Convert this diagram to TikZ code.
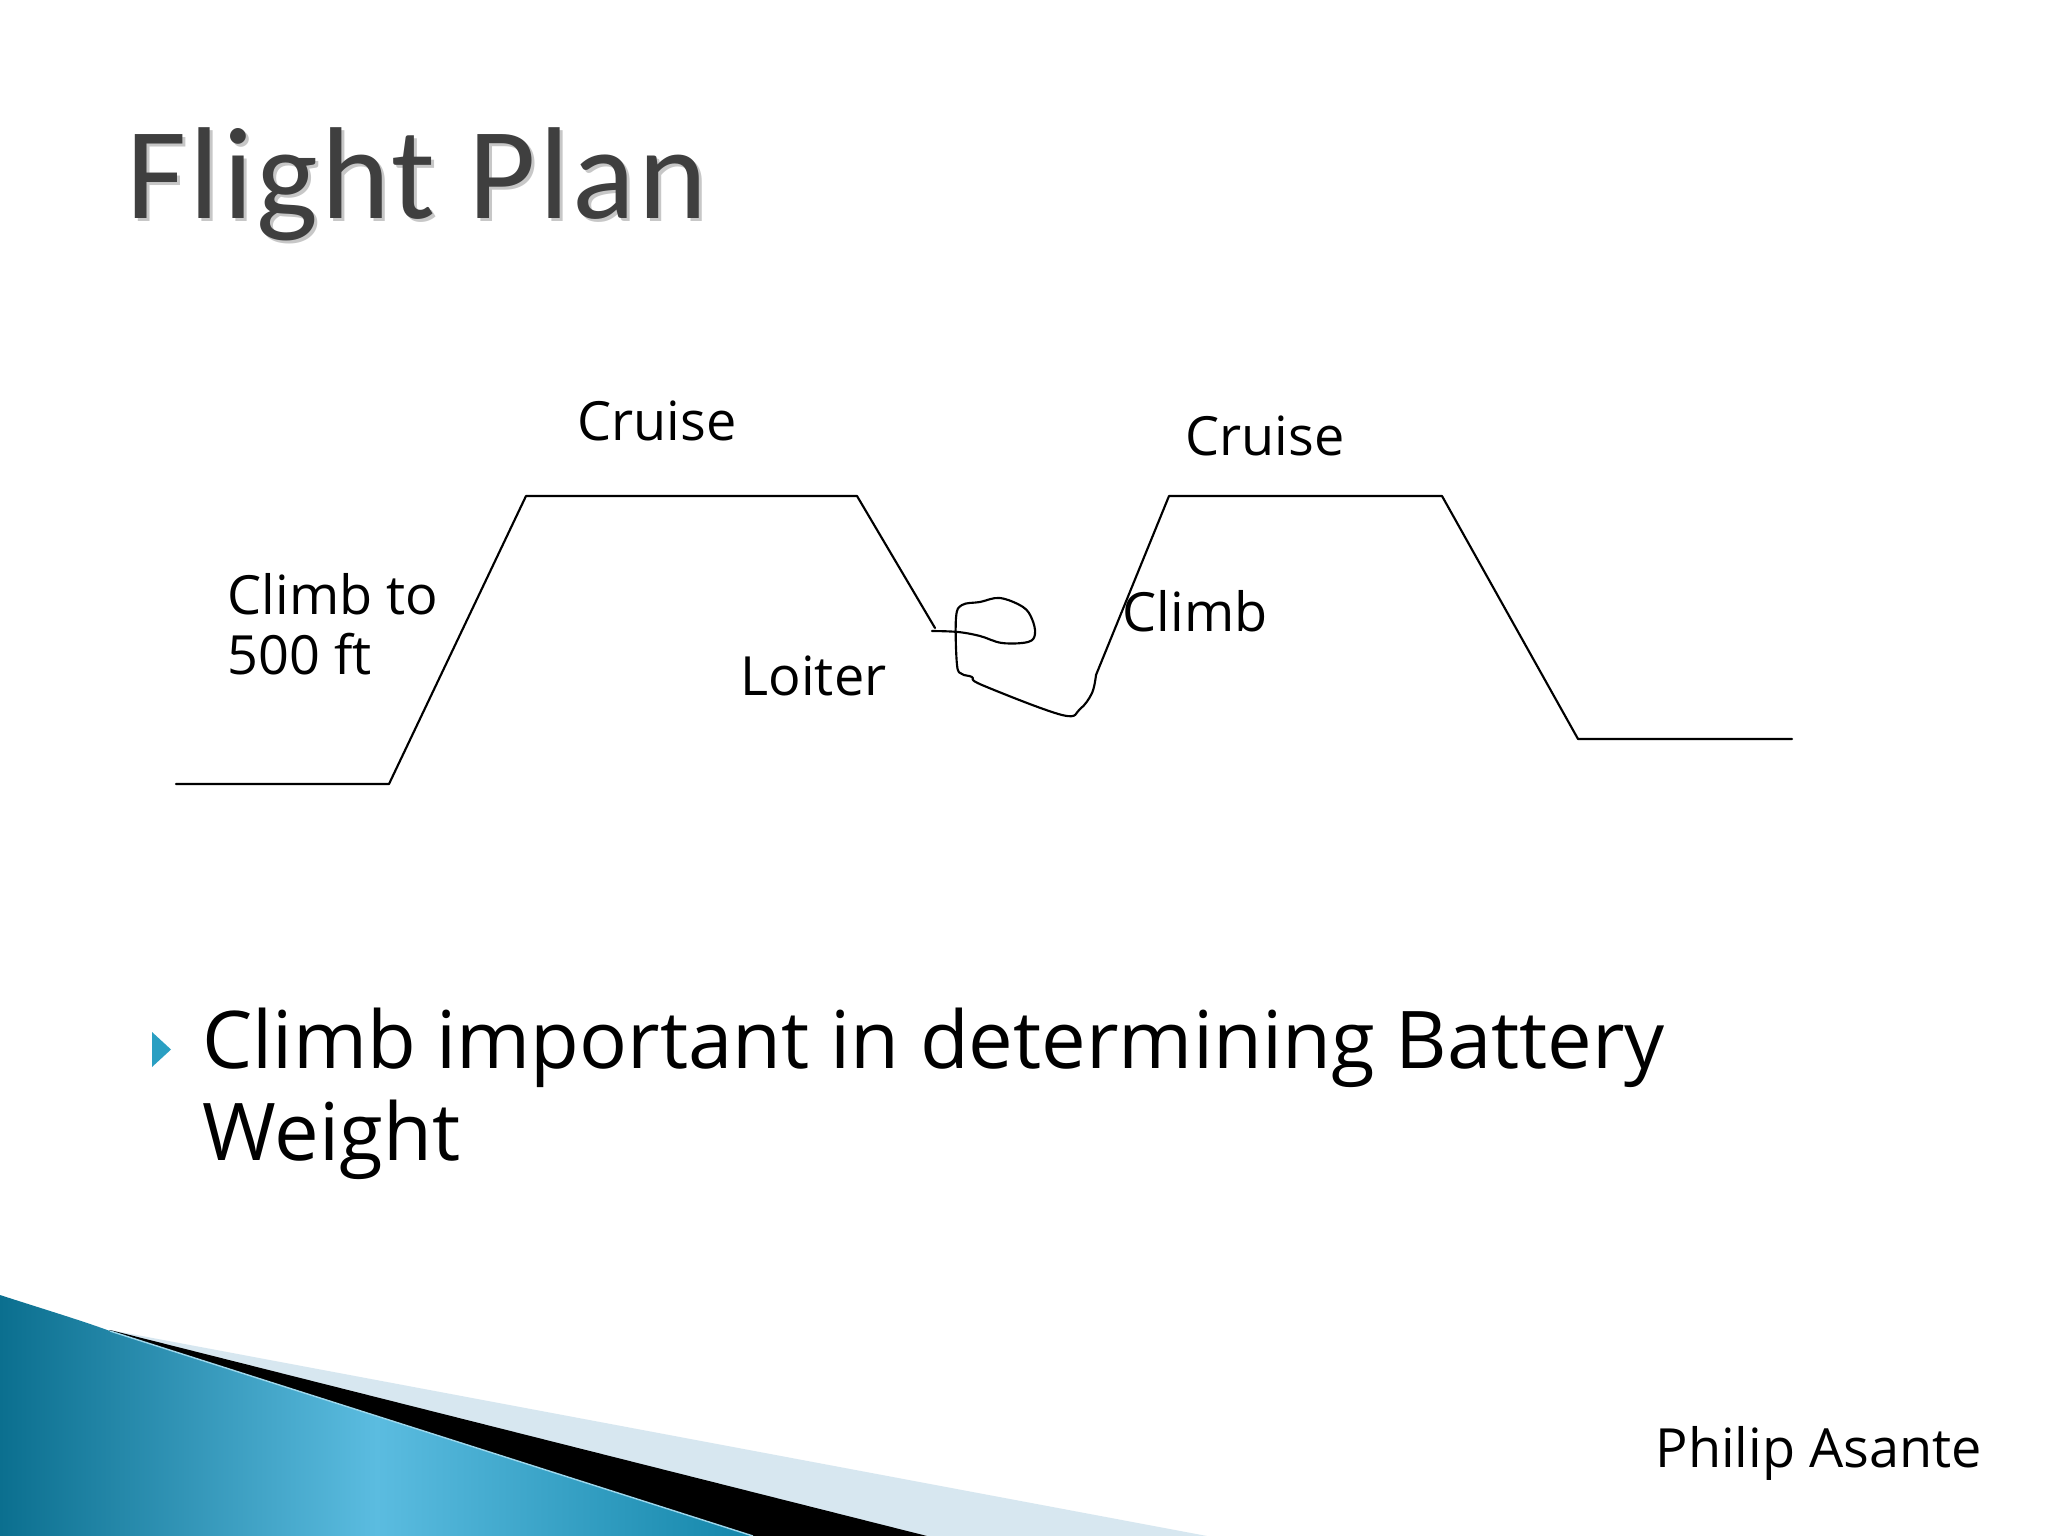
\documentclass[tikz,border=0pt]{standalone}
\usepackage{fontspec}
\setmainfont{Open Sans}
\newfontfamily\titlefont[LetterSpace = 2.5]{Carlito}
\definecolor{titlegray}{HTML}{3F3F3F}
\definecolor{bulletblue}{HTML}{2A9FC2}
\definecolor{swooshdark}{HTML}{0B6F8F}
\definecolor{swooshlight}{HTML}{5BBCE0}
\definecolor{swooshmid}{HTML}{1386AA}
\definecolor{swooshpale}{HTML}{D7E7F0}
\pgfdeclarehorizontalshading{swoosh}{100bp}{color(0bp)=(swooshdark); color(25bp)=(swooshdark); color(50bp)=(swooshlight); color(75bp)=(swooshmid); color(100bp)=(swooshmid)}

\begin{document}
\begin{tikzpicture}[x = 0.3515625pt, y = -0.3515625pt,
    every node/.style = {inner sep = 0pt},
    route/.style = {line width = 0.75pt, line join = round, line cap = round},
    lbl/.style = {anchor = base west, font = \fontsize{19}{21.2}\selectfont, align = left}]

        \useasboundingbox (0, 0) rectangle (2048, 1536);
        \fill [white] (0, 0) rectangle (2048, 1536);

        \node (t0) at (129, 222) [anchor = base west, text = black!22] {\titlefont\fontsize{46}{50}\selectfont Flight Plan};
        \node (t1) at (126, 219) [anchor = base west, text = titlegray] {\titlefont\fontsize{46}{50}\selectfont Flight Plan};

        \draw [route] (176, 784) -- (389, 784) -- (526, 496) -- (857, 496) -- (935, 628);
        \draw [route] plot [smooth, tension = 0.6] coordinates {(932, 631) (958, 632) (980, 636) (1002, 643) (1028, 642) (1035, 634) (1032, 619) (1023, 607) (1000, 598) (980, 602) (962, 605) (956, 618) (957, 665) (962, 674) (972, 677) (982, 685) (1062, 715) (1080, 709) (1092, 693) (1096, 675)} -- (1169, 496) -- (1442, 496) -- (1578, 739) -- (1792, 739);

        \node (n1) at (577, 441) [lbl] {Cruise};
        \node (n2) at (1185, 456) [lbl] {Cruise};
        \node (n3) at (227, 675) [lbl] {Climb to\\500 ft};
        \node (n4) at (740, 696) [lbl] {Loiter};
        \node (n5) at (1122, 632) [lbl] {Climb};

        \fill [bulletblue] (152, 1032) -- (171, 1049.5) -- (152, 1067) -- cycle;
        \node (n6) at (202, 1160) [anchor = base west, font = \fontsize{28}{32.3}\selectfont, align = left] {Climb important in determining Battery\\Weight};

        \fill [swooshpale] (110, 1330) -- (1207, 1536) -- (0, 1536) -- cycle;
        \fill [black] (110, 1330) -- (927, 1536) -- (0, 1536) -- cycle;
        \shade [shading = swoosh] (0, 1295) .. controls (40, 1308) and (80, 1320) .. (110, 1331) -- (753, 1536) -- (0, 1536) -- cycle;
        \draw [swooshlight!60!white, line width = 0.5pt] (110, 1331) -- (753, 1536);

        \node (n7) at (1655, 1467) [lbl] {Philip Asante};

    \end{tikzpicture}
\end{document}
